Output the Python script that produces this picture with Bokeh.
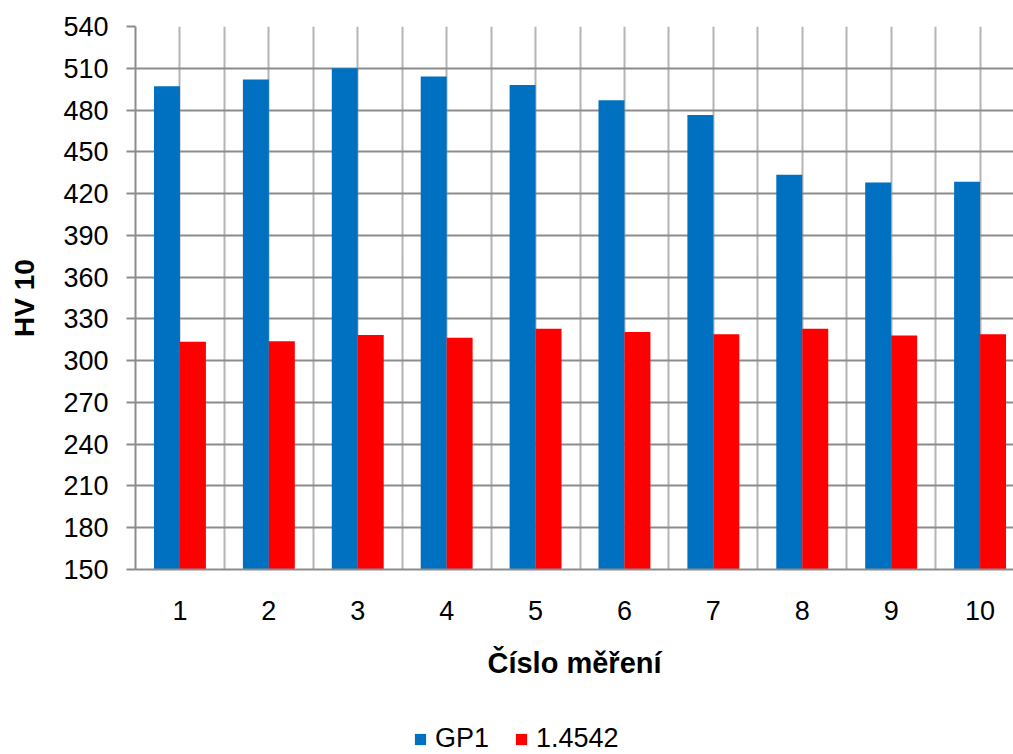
from bokeh.plotting import figure
from bokeh.models import ColumnDataSource, Range1d, FixedTicker, Legend, LegendItem
from bokeh.layouts import column
from bokeh.transform import dodge
from bokeh.embed import file_html
from bokeh.resources import INLINE

# Data
measurements = [1, 2, 3, 4, 5, 6, 7, 8, 9, 10]
gp1 = [497, 502, 510, 504, 498, 487, 476.5, 433.5, 428, 428.5]
steel_14542 = [313.5, 314, 318.5, 316.5, 323, 320.5, 319, 323, 318, 319]
y_ticks = list(range(150, 541, 30))
series_names = ["GP1", "1.4542"]
series_colors = ["#0070c0", "#ff0000"]
x_title = "Číslo měření"
y_title = "HV 10"

src = ColumnDataSource(dict(x=measurements, gp1=gp1, s2=steel_14542))

Y0, Y1 = 150, 540
p = figure(width=1013, height=706, output_backend="svg", toolbar_location=None,
           x_range=Range1d(0.5, 10.376), y_range=Range1d(Y0, Y1),
           min_border_left=135, min_border_top=26, min_border_right=0, min_border_bottom=137)
p.outline_line_color = None
p.background_fill_color = "white"
p.border_fill_color = "white"

# grid
p.xgrid.ticker = FixedTicker(ticks=[0.5 + 0.5 * i for i in range(21)])
p.xgrid.grid_line_color = "#b4b4b4"
p.xgrid.grid_line_width = 2
p.ygrid.ticker = FixedTicker(ticks=y_ticks)
p.ygrid.grid_line_color = "#8c8c8c"
p.ygrid.grid_line_width = 2

w = 0.292
p.vbar(x=dodge("x", -w / 2, range=p.x_range), top="gp1", bottom=Y0, width=w,
       source=src, fill_color=series_colors[0], line_color=None)
p.vbar(x=dodge("x", w / 2, range=p.x_range), top="s2", bottom=Y0, width=w,
       source=src, fill_color=series_colors[1], line_color=None)

# axes
p.xaxis.ticker = FixedTicker(ticks=measurements)
p.xaxis.major_tick_line_color = None
p.xaxis.minor_tick_line_color = None
p.xaxis.axis_line_color = "#8c8c8c"
p.xaxis.axis_line_width = 2
p.xaxis.major_label_text_font = "Liberation Sans"
p.xaxis.major_label_text_font_size = "27px"
p.xaxis.major_label_text_color = "black"
p.xaxis.major_label_standoff = 25
p.xaxis.axis_label = x_title
p.xaxis.axis_label_text_font = "Liberation Sans"
p.xaxis.axis_label_text_font_size = "29px"
p.xaxis.axis_label_text_font_style = "bold"
p.xaxis.axis_label_text_color = "black"
p.xaxis.axis_label_standoff = 24

p.yaxis.ticker = FixedTicker(ticks=y_ticks)
p.yaxis.minor_tick_line_color = None
p.yaxis.major_tick_out = 9
p.yaxis.major_tick_in = 0
p.yaxis.major_tick_line_color = "#8c8c8c"
p.yaxis.major_tick_line_width = 2
p.yaxis.axis_line_color = "#8c8c8c"
p.yaxis.axis_line_width = 2
p.yaxis.major_label_text_font = "Liberation Sans"
p.yaxis.major_label_text_font_size = "27px"
p.yaxis.major_label_text_color = "black"
p.yaxis.major_label_standoff = 18
p.yaxis.axis_label = y_title
p.yaxis.axis_label_text_font = "Liberation Sans"
p.yaxis.axis_label_text_font_size = "28px"
p.yaxis.axis_label_text_font_style = "bold"
p.yaxis.axis_label_text_color = "black"
p.yaxis.axis_label_standoff = 20

# legend strip below the chart; its renderers hold no drawable point and only
# provide the legend swatches
lg = figure(width=1013, height=48, output_backend="svg", toolbar_location=None,
            x_range=Range1d(0, 1), y_range=Range1d(0, 1),
            min_border_left=135, min_border_right=0, min_border_top=0, min_border_bottom=0)
lg.axis.visible = False
lg.grid.visible = False
lg.outline_line_color = None
lg.border_fill_color = "white"
lg.background_fill_color = "white"
swatch_src = ColumnDataSource(dict(x=[float("nan")], top=[float("nan")]))
lr1 = lg.vbar(x="x", top="top", width=w, source=swatch_src,
              fill_color=series_colors[0], line_color=None)
lr2 = lg.vbar(x="x", top="top", width=w, source=swatch_src,
              fill_color=series_colors[1], line_color=None)
legend = Legend(items=[LegendItem(label=series_names[0], renderers=[lr1], index=0),
                       LegendItem(label=series_names[1], renderers=[lr2], index=0)],
                location=(278, 0), orientation="horizontal",
                glyph_width=14, glyph_height=14, label_standoff=8, spacing=25,
                padding=0, margin=0, border_line_color=None, background_fill_alpha=0,
                label_text_font="Liberation Sans", label_text_font_size="27px",
                label_text_color="black")
lg.add_layout(legend, "center")

layout = column(p, lg, spacing=0)
open("out.html", "w").write(file_html(layout, INLINE))
